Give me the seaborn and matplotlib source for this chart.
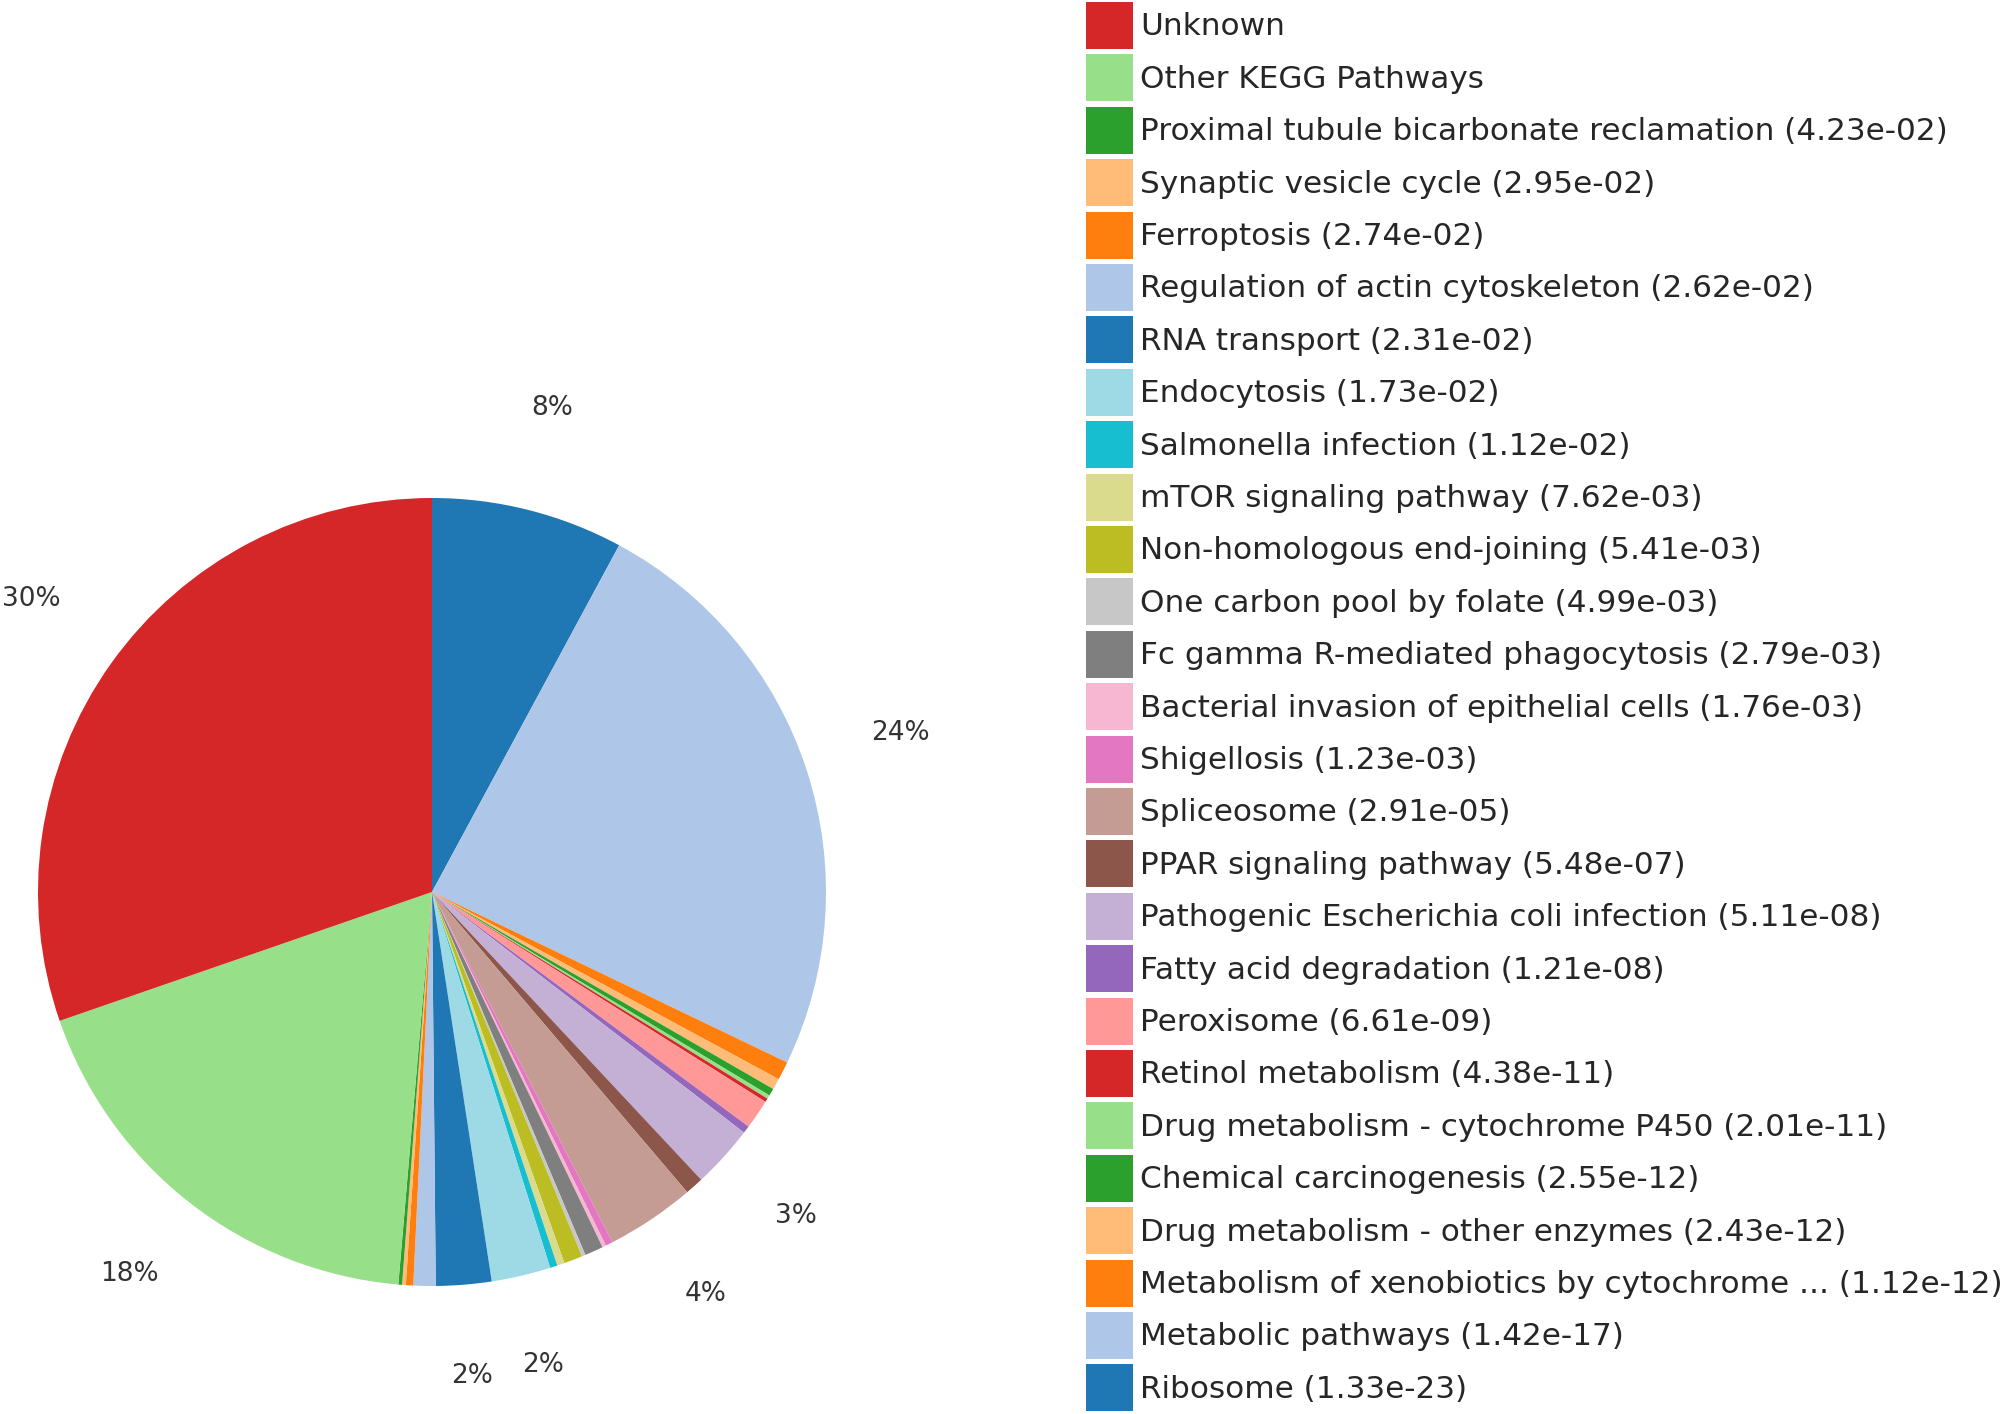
import matplotlib
matplotlib.use("Agg")
import matplotlib.pyplot as plt
import matplotlib.patches as mpatches
import seaborn as sns

# ==========================================
# Data (legend order, top to bottom)
# ==========================================
pathways = [
    "Unknown",
    "Other KEGG Pathways",
    "Proximal tubule bicarbonate reclamation",
    "Synaptic vesicle cycle",
    "Ferroptosis",
    "Regulation of actin cytoskeleton",
    "RNA transport",
    "Endocytosis",
    "Salmonella infection",
    "mTOR signaling pathway",
    "Non-homologous end-joining",
    "One carbon pool by folate",
    "Fc gamma R-mediated phagocytosis",
    "Bacterial invasion of epithelial cells",
    "Shigellosis",
    "Spliceosome",
    "PPAR signaling pathway",
    "Pathogenic Escherichia coli infection",
    "Fatty acid degradation",
    "Peroxisome",
    "Retinol metabolism",
    "Drug metabolism - cytochrome P450",
    "Chemical carcinogenesis",
    "Drug metabolism - other enzymes",
    "Metabolism of xenobiotics by cytochrome ...",
    "Metabolic pathways",
    "Ribosome",
]
pvalues = [
    None, None, "4.23e-02", "2.95e-02", "2.74e-02", "2.62e-02", "2.31e-02",
    "1.73e-02", "1.12e-02", "7.62e-03", "5.41e-03", "4.99e-03", "2.79e-03",
    "1.76e-03", "1.23e-03", "2.91e-05", "5.48e-07", "5.11e-08", "1.21e-08",
    "6.61e-09", "4.38e-11", "2.01e-11", "2.55e-12", "2.43e-12", "1.12e-12",
    "1.42e-17", "1.33e-23",
]
# gene counts per slice
counts = [
    200, 121, 1, 1, 2, 6, 15, 16, 2, 2, 5, 1, 5, 1, 2, 24, 5, 17, 2, 8,
    1, 1, 2, 3, 5, 160, 52,
]

labels = [p if v is None else f"{p} ({v})" for p, v in zip(pathways, pvalues)]

# pie is drawn clockwise from the top starting with the last legend entry
plot_counts = counts[::-1]
palette = sns.color_palette("tab20", 20)
plot_colors = [palette[i % 20] for i in range(len(plot_counts))]
legend_colors = plot_colors[::-1]

# ==========================================
# Figure
# ==========================================
sns.set_style("white")
plt.rcParams["font.family"] = ["DejaVu Sans"]

W, H = 2008, 1414
fig = plt.figure(figsize=(W / 100, H / 100), dpi=100)

cx, cy, r = 432, 892, 394
lim = 1.1
ax = fig.add_axes([(cx - lim * r) / W, (H - cy - lim * r) / H,
                   2 * lim * r / W, 2 * lim * r / H])


def pct_label(p):
    return f"{p:.0f}%" if p >= 2 else ""


wedges, texts, autotexts = ax.pie(
    plot_counts,
    colors=plot_colors,
    startangle=90,
    counterclock=False,
    autopct=pct_label,
    pctdistance=1.25,
    wedgeprops={"linewidth": 0},
    textprops={"fontsize": 19, "color": "#333333"},
)
for t in autotexts:
    t.set_va("baseline")

ax.set_xlim(-lim, lim)
ax.set_ylim(-lim, lim)
ax.set_aspect("equal")
ax.axis("off")

handles = [mpatches.Patch(facecolor=c, edgecolor="none") for c in legend_colors]
fig.legend(
    handles, labels,
    loc="upper left",
    bbox_to_anchor=(1086 / W, 1 - 2 / H),
    frameon=False,
    fontsize=22.4,
    handlelength=1.51,
    handleheight=1.945,
    labelspacing=0.175,
    handletextpad=0.22,
    borderpad=0,
    borderaxespad=0,
)

fig.savefig("out.png", dpi=100)
